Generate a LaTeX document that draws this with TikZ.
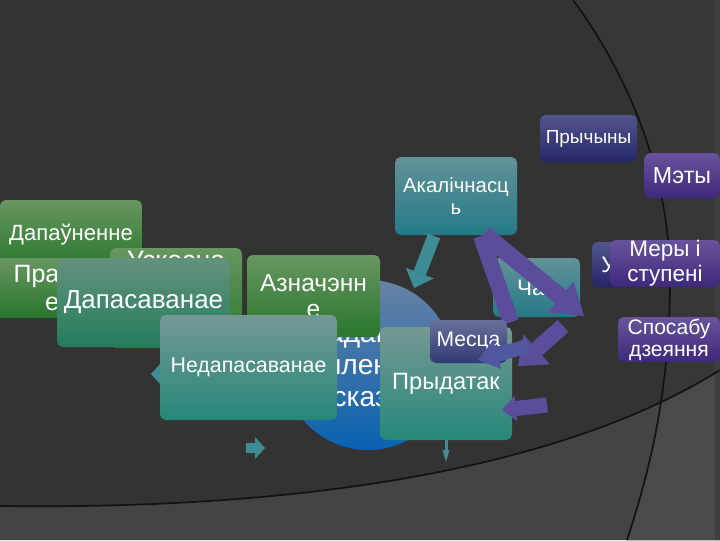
\documentclass[tikz,border=0pt]{standalone}
\usepackage{fontspec}
\setmainfont{Liberation Sans}
\usetikzlibrary{arrows.meta}

\definecolor{bgdark}{RGB}{51,51,51}
\definecolor{bgright}{RGB}{55,55,55}
\definecolor{bgband}{RGB}{68,68,68}
\definecolor{bgbandr}{RGB}{74,74,74}
\definecolor{bgedge}{RGB}{62,62,62}
\definecolor{arcline}{RGB}{18,18,18}
\definecolor{grtop}{RGB}{104,150,96}
\definecolor{grbot}{RGB}{40,118,44}
\definecolor{dptop}{RGB}{100,146,124}
\definecolor{dpbot}{RGB}{36,124,92}
\definecolor{tgtop}{RGB}{116,152,148}
\definecolor{tgbot}{RGB}{38,136,120}
\definecolor{tltop}{RGB}{98,146,152}
\definecolor{tlbot}{RGB}{36,122,136}
\definecolor{nvtop}{RGB}{82,84,142}
\definecolor{nvbot}{RGB}{38,38,104}
\definecolor{mstop}{RGB}{104,112,152}
\definecolor{msbot}{RGB}{50,58,118}
\definecolor{pltop}{RGB}{104,84,156}
\definecolor{plbot}{RGB}{62,40,122}
\definecolor{cirtop}{RGB}{104,130,164}
\definecolor{cirbot}{RGB}{8,98,176}
\definecolor{parr}{RGB}{92,76,156}
\definecolor{barr}{RGB}{80,88,162}
\definecolor{tarr}{RGB}{62,140,150}

\tikzset{
  card/.style 2 args={rounded corners=4pt, inner sep=0pt, text=white, align=center,
    minimum width=#1*0.025cm, minimum height=#2*0.025cm},
  fnt/.style 2 args={font=\fontsize{#1}{#2}\selectfont},
  grcard/.style={top color=grtop, bottom color=grbot},
  dpcard/.style={top color=dptop, bottom color=dpbot},
  tgcard/.style={top color=tgtop, bottom color=tgbot},
  tlcard/.style={top color=tltop, bottom color=tlbot},
  nvcard/.style={top color=nvtop, bottom color=nvbot},
  mscard/.style={top color=mstop, bottom color=msbot},
  plcard/.style={top color=pltop, bottom color=plbot},
  barrow/.style n args={4}{draw=#1, line width=#2,
    -{Triangle[width=#3, length=#4, line width=0pt]}},
}

\begin{document}
\begin{tikzpicture}[x=0.025cm, y=-0.025cm]
\useasboundingbox (0,0) rectangle (720,540);
\clip (0,0) rectangle (720,540);

\fill[bgdark] (0,0) rectangle (720,540);
\fill[bgright] (573,0) .. controls (625,70) and (670,170) .. (670,280)
  .. controls (670,390) and (650,470) .. (627,540) -- (720,540) -- (720,0) -- cycle;
\fill[bgband] (0,506) .. controls (300,510) and (560,470) .. (720,370) -- (720,540) -- (0,540) -- cycle;
\begin{scope}
\clip (573,0) .. controls (625,70) and (670,170) .. (670,280)
  .. controls (670,390) and (650,470) .. (627,540) -- (720,540) -- (720,0) -- cycle;
\fill[bgbandr] (0,506) .. controls (300,510) and (560,470) .. (720,370) -- (720,540) -- (0,540) -- cycle;
\end{scope}
\fill[bgedge] (715,0) rectangle (720,540);
\draw[arcline, line width=1.2pt] (573,0) .. controls (625,70) and (670,170) .. (670,280)
  .. controls (670,390) and (650,470) .. (627,540);
\draw[arcline, line width=1.2pt] (0,506) .. controls (300,510) and (560,470) .. (720,370);

\node[circle, minimum size=170*0.025cm, inner sep=0pt, top color=cirtop, bottom color=cirbot,
  text=white, align=center, fnt={20}{23}] (chlen) at (368,365) {Даданыя\\члены\\сказа};

\coordinate (s1a) at (246,448); \coordinate (s1b) at (265,448);
\coordinate (s2a) at (178,374); \coordinate (s2b) at (151,374);
\coordinate (s3a) at (446,436); \coordinate (s3b) at (446,462);
\draw[barrow={tarr}{0.25cm}{0.55cm}{0.25cm}] (s1a) -- (s1b);
\draw[barrow={tarr}{0.25cm}{0.55cm}{0.25cm}] (s2a) -- (s2b);
\draw[barrow={tarr}{0.075cm}{0.175cm}{0.3cm}] (s3a) -- (s3b);

\node[card={142}{70}, grcard, fnt={15.7}{18}] (dapau) at (71,235) {Дапаўненне};
\node[card={116}{60}, grcard, fnt={17.8}{20}] (pramoe) at (52,288) {Прамо\\е};
\node[card={132}{100}, grcard, fnt={19}{20}, text depth=1.2cm] (uskos) at (176,298) {Ускосна\\е};
\node[card={133}{82}, grcard, fnt={17.5}{18}] (aznach) at (313.5,296) {Азначэнн\\е};
\node[card={173}{89}, dpcard, fnt={18.5}{22}] (dapas) at (143.5,302.5) {Дапасаванае};
\node[card={177}{105}, tgcard, fnt={15.2}{18}] (nedap) at (248.5,367.5) {Недапасаванае};

\node[card={122}{78}, tlcard, fnt={14.5}{15.6}] (akal) at (456,196) {Акалічнасц\\ь};
\coordinate (t1a) at (434,236); \coordinate (t1b) at (414,288);
\draw[barrow={tarr}{0.325cm}{0.75cm}{0.4cm}] (t1a) -- (t1b);

\node[card={87}{59}, tlcard, fnt={16}{18}] (chas) at (536.5,287.5) {Час};
\coordinate (p1a) at (484,234); \coordinate (p1b) at (584,316);
\coordinate (p2a) at (481,236); \coordinate (p2b) at (511,322);
\draw[barrow={parr}{0.425cm}{1cm}{0.75cm}] (p1a) -- (p1b);
\draw[parr, line width=0.4cm] (p2a) -- (p2b);

\node[card={132}{113}, tgcard, fnt={16.8}{20}] (prydat) at (446,383.5) {Прыдатак};
\node[card={77}{43}, mscard, fnt={15}{18}] (mesca) at (468.5,341.5) {Месца};

\coordinate (p3a) at (563,326); \coordinate (p3b) at (518,366);
\coordinate (bla) at (528,346); \coordinate (blb) at (478,360);
\coordinate (p4a) at (547,405); \coordinate (p4b) at (502,410);
\draw[barrow={parr}{0.4cm}{1cm}{0.625cm}] (p3a) -- (p3b);
\draw[barrow={barr}{0.35cm}{0.75cm}{0.5cm}] (bla) -- (blb);
\draw[barrow={parr}{0.375cm}{0.65cm}{0.35cm}] (p4a) -- (p4b);

\node[card={97}{47}, nvcard, fnt={13.5}{16}] (prych) at (588.5,138.5) {Прычыны};
\node[card={75}{45}, plcard, fnt={16.5}{18}] (mety) at (682,175.5) {Мэты};
\node[card={88}{45}, nvcard, fnt={16}{18}] (umovy) at (636,264.5) {Умовы};
\node[card={110}{47}, plcard, fnt={16}{17.8}] (mery) at (665,263.5) {Меры і\\ступені};
\node[card={102}{45}, plcard, fnt={15}{15.6}] (sposab) at (669,339.5) {Спосабу\\дзеяння};
\end{tikzpicture}
\end{document}
